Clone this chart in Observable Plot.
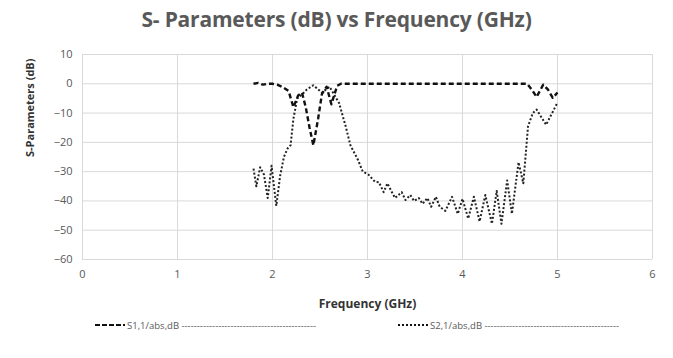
<!DOCTYPE html>
<html><head><meta charset="utf-8">
<script src="https://cdn.jsdelivr.net/npm/d3@7"></script>
<script src="https://cdn.jsdelivr.net/npm/@observablehq/plot@0.6"></script>
<style>
body{margin:0;background:#fff;width:673px;height:358px;overflow:hidden;font-family:"Open Sans",sans-serif;position:relative;}
#title{position:absolute;left:0;top:5px;width:673px;text-align:center;font-size:21px;font-weight:bold;color:#595959;letter-spacing:-0.2px;}
#chart{position:absolute;left:0;top:42px;}
.leg{position:absolute;top:317px;height:16px;display:flex;align-items:center;font-size:9.5px;color:#595959;white-space:nowrap;}
.leg svg{margin-right:2px;}
</style></head>
<body>
<div id="title">S- Parameters (dB) vs Frequency (GHz)</div>
<div id="chart"></div>
<div class="leg" id="leg1"></div>
<div class="leg" id="leg2"></div>
<script>
const xTicks = [0, 1, 2, 3, 4, 5, 6];
const yTicks = [10, 0, -10, -20, -30, -40, -50, -60];
const seriesNames = ["S1,1/abs,dB", "S2,1/abs,dB"];

const freqS11 = [1.80, 1.85, 1.90, 1.95, 2.00, 2.05, 2.10, 2.17, 2.22, 2.27, 2.31, 2.35, 2.39, 2.43, 2.48, 2.52, 2.57, 2.62, 2.68, 2.72, 3.0, 3.5, 4.0, 4.5, 4.68, 4.73, 4.78, 4.85, 4.90, 4.95, 5.00];
const dbS11   = [0, 0.3, -0.3, 0, 0, -0.3, -1, -2.5, -8, -4, -3, -8, -15, -21, -12, -3.5, -1, -7, -0.7, 0, 0, 0, 0, 0, 0, -2, -4.5, -0.3, -2, -4.8, -3];

const freqS21 = [1.80, 1.83, 1.87, 1.91, 1.95, 1.99, 2.04, 2.08, 2.12, 2.16, 2.19, 2.22, 2.26, 2.31, 2.36, 2.43, 2.52, 2.60, 2.70, 2.77, 2.82, 2.90, 2.95, 3.01, 3.08, 3.12, 3.17, 3.21, 3.25, 3.29, 3.36, 3.40, 3.45, 3.49, 3.54, 3.58, 3.63, 3.67, 3.72, 3.76, 3.82, 3.89, 3.95, 4.00, 4.06, 4.12, 4.18, 4.24, 4.31, 4.36, 4.41, 4.47, 4.52, 4.59, 4.64, 4.69, 4.74, 4.78, 4.88, 5.00];
const dbS21   = [-29, -35, -28.5, -31, -39, -28, -41.7, -31.5, -25, -22, -21, -12, -5, -3.7, -2, -0.5, -3, -1, -6.5, -14.5, -21, -26, -30, -31, -33.5, -33.6, -37, -34, -36.6, -39, -37, -39.7, -38, -40, -39, -41, -39, -42, -38.6, -42, -43.4, -38.6, -44.4, -39.3, -46, -38.6, -47, -38, -47.8, -36.6, -47.8, -33, -44.4, -26.8, -34, -14.5, -10, -8.8, -14, -6.4];

const s11 = freqS11.map((f, i) => ({f, db: dbS11[i]}));
const s21 = freqS21.map((f, i) => ({f, db: dbS21[i]}));

const chart = Plot.plot({
  width: 673,
  height: 275,
  marginLeft: 82,
  marginRight: 21,
  marginTop: 12,
  marginBottom: 58,
  style: {fontFamily: "Open Sans, sans-serif", fontSize: "11px", color: "#595959", background: "#fff"},
  x: {domain: [0, 6], label: null},
  y: {domain: [-60, 10], label: null},
  marks: [
    Plot.gridX(xTicks, {stroke: "#d9d9d9", strokeOpacity: 1}),
    Plot.gridY(yTicks, {stroke: "#d9d9d9", strokeOpacity: 1}),
    Plot.axisX(xTicks, {tickSize: 0, tickPadding: 11, label: null, fill: "#595959"}),
    Plot.axisY(yTicks, {tickSize: 0, tickPadding: 10, label: null, fill: "#595959"}),
    Plot.line(s21, {x: "f", y: "db", stroke: "#222", strokeWidth: 2, strokeDasharray: "2,2", strokeLinecap: "butt"}),
    Plot.line(s11, {x: "f", y: "db", stroke: "#111", strokeWidth: 2.4, strokeDasharray: "5,3", strokeLinecap: "butt"}),
    Plot.text(["Frequency (GHz)"], {frameAnchor: "bottom", dy: 48, fontWeight: "bold", fontSize: 12, fill: "#333"}),
    Plot.text(["S-Parameters (dB)"], {frameAnchor: "left", dx: -52, rotate: -90, fontWeight: "bold", fontSize: 11, fill: "#333"})
  ]
});
document.getElementById("chart").appendChild(chart);

function legend(id, left, dash, name) {
  const el = document.getElementById(id);
  el.style.left = left + "px";
  el.innerHTML = `<svg width="30" height="6"><line x1="0" y1="3" x2="30" y2="3" stroke="#111" stroke-width="2" stroke-dasharray="${dash}"/></svg><span>${name} ${"-".repeat(44)}</span>`;
}
legend("leg1", 95, "5,2", seriesNames[0]);
legend("leg2", 398, "2,2", seriesNames[1]);
</script>
</body></html>
